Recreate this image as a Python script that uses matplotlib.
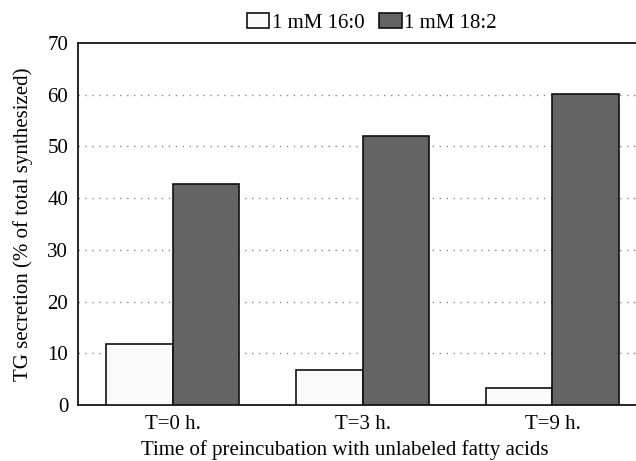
import numpy as np
import matplotlib.pyplot as plt

plt.rcParams['font.family'] = ['Liberation Serif', 'DejaVu Serif']

# data
groups = ['T=0 h.', 'T=3 h.', 'T=9 h.']
palmitate = [11.8, 6.8, 3.2]    # 1 mM 16:0
linoleate = [42.8, 52.0, 60.2]  # 1 mM 18:2
series_names = ['1 mM 16:0', '1 mM 18:2']

fig = plt.figure(figsize=(6.36, 4.61), dpi=100)
ax = fig.add_axes([0.1226, 0.1215, 0.8774, 0.7852])

x = np.arange(len(groups))
w = 0.35
ax.bar(x - w / 2, palmitate, w, color='#fafafa', edgecolor='#111111', linewidth=1.2,
       label=series_names[0], zorder=3)
ax.bar(x + w / 2, linoleate, w, color='#646464', edgecolor='#111111', linewidth=1.2,
       label=series_names[1], zorder=3)

ax.set_xlim(-0.5, 2.44)
ax.set_ylim(0, 70)
ax.set_yticks(np.arange(0, 71, 10))
ax.set_xticks(x)
ax.set_xticklabels(groups)
ax.tick_params(length=0, labelsize=15, pad=7)

for y in range(10, 70, 10):
    ax.axhline(y, color='#888888', linestyle=(0, (1, 4)), linewidth=1, zorder=1)

ax.spines['right'].set_visible(False)
for s in ['left', 'top', 'bottom']:
    ax.spines[s].set_linewidth(1.2)

ax.set_ylabel('TG secretion (% of total synthesized)', fontsize=15)
ax.yaxis.set_label_coords(-0.08, 0.5)
ax.set_xlabel('Time of preincubation with unlabeled fatty acids', fontsize=15)
ax.xaxis.set_label_coords(0.478, -0.097)

fig.legend(loc='upper center', bbox_to_anchor=(0.584, 1.012), ncol=2, frameon=False,
           fontsize=15, handlelength=1.1, handleheight=0.75, handletextpad=0.1,
           columnspacing=0.7)

fig.savefig('out.png', dpi=100)
